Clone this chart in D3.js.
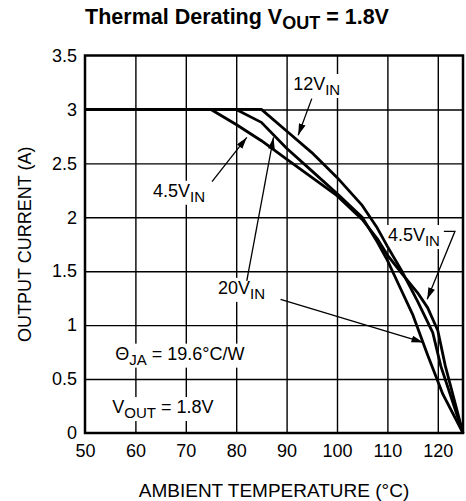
<!DOCTYPE html>
<html lang="en">
<head>
<meta charset="UTF-8">
<title>Thermal Derating</title>
<script src="https://cdn.jsdelivr.net/npm/d3@7/dist/d3.min.js"></script>
<style>
  body { margin: 0; background: #fff; }
  svg { display: block; font-family: "Liberation Sans", Arial, sans-serif; }
  .tick text { font-size: 18px; fill: #000; }
</style>
</head>
<body>
<svg id="chart" width="466" height="501"></svg>
<script>
// values
const xTicks = [50, 60, 70, 80, 90, 100, 110, 120];
const yTicks = [0, 0.5, 1, 1.5, 2, 2.5, 3, 3.5];

const temp12 = [50, 85, 90, 95, 100, 105, 108, 110, 113, 116, 119, 120.6, 125];
const curr12 = [3, 3, 2.8, 2.6, 2.37, 2.11, 1.9, 1.73, 1.49, 1.22, 0.93, 0.62, 0];

const temp20 = [50, 80, 85, 90, 95, 100, 105, 108, 110, 112, 115, 118, 121, 125];
const curr20 = [3, 3, 2.88, 2.64, 2.43, 2.22, 2.0, 1.77, 1.6, 1.4, 1.1, 0.72, 0.36, 0];

const temp45 = [50, 75, 80, 85, 90, 95, 100, 105, 108, 110, 113, 116, 118, 120, 121.5, 125];
const curr45 = [3, 3, 2.86, 2.71, 2.54, 2.37, 2.2, 1.98, 1.8, 1.65, 1.47, 1.3, 1.16, 0.95, 0.62, 0];

const series = [
  { name: "12V", t: temp12, c: curr12 },
  { name: "20V", t: temp20, c: curr20 },
  { name: "4.5V", t: temp45, c: curr45 }
];

const svg = d3.select("#chart");
const pL = 85, pR = 463, pT = 55.5, pB = 433;
const fs = 18;

const x = d3.scaleLinear().domain([50, 125]).range([pL, pR]);
const y = d3.scaleLinear().domain([0, 3.5]).range([pB, pT]);

// layers: grid, white boxes under labels, curves, arrows, text
const grid = svg.append("g");
const boxes = svg.append("g");
const curves = svg.append("g");
const arrows = svg.append("g");
const texts = svg.append("g");

grid.append("g")
  .attr("transform", `translate(0,${pB})`)
  .call(d3.axisBottom(x).tickValues(xTicks.slice(1)).tickSize(-(pB - pT)).tickFormat(""))
  .call(g => g.select(".domain").remove())
  .call(g => g.selectAll("line").attr("stroke", "#000").attr("stroke-width", 1.4));

grid.append("g")
  .attr("transform", `translate(${pL},0)`)
  .call(d3.axisLeft(y).tickValues(yTicks.slice(1, -1)).tickSize(-(pR - pL)).tickFormat(""))
  .call(g => g.select(".domain").remove())
  .call(g => g.selectAll("line").attr("stroke", "#000").attr("stroke-width", 1.4));

// tick labels
svg.append("g")
  .attr("transform", `translate(0,${pB})`)
  .call(d3.axisBottom(x).tickValues(xTicks).tickSize(0).tickPadding(11).tickFormat(d3.format("d")))
  .call(g => g.select(".domain").remove());

svg.append("g")
  .attr("transform", `translate(${pL},0)`)
  .call(d3.axisLeft(y).tickValues(yTicks).tickSize(0).tickPadding(8).tickFormat(d => d))
  .call(g => g.select(".domain").remove());

// curves
const line = d3.line().x(d => x(d[0])).y(d => y(d[1]));
series.forEach(s => {
  curves.append("path")
    .datum(d3.zip(s.t, s.c))
    .attr("d", line)
    .attr("fill", "none")
    .attr("stroke", "#000")
    .attr("stroke-width", 2.8)
    .attr("stroke-linejoin", "round");
});

// frame
svg.append("rect")
  .attr("x", pL).attr("y", pT)
  .attr("width", pR - pL).attr("height", pB - pT)
  .attr("fill", "none").attr("stroke", "#000").attr("stroke-width", 2.5);

svg.append("defs").append("marker")
  .attr("id", "head")
  .attr("viewBox", "0 0 10 6")
  .attr("refX", 10).attr("refY", 3)
  .attr("markerWidth", 12).attr("markerHeight", 7)
  .attr("markerUnits", "userSpaceOnUse")
  .attr("orient", "auto")
  .append("path").attr("d", "M0,0L10,3L0,6Z").attr("fill", "#000");

// label with subscript; pos in data units
function label(tx, ty, main, sub, rest) {
  const t = texts.append("text")
    .attr("x", x(tx)).attr("y", y(ty))
    .attr("font-size", fs);
  t.append("tspan").text(main);
  t.append("tspan").attr("dy", 5).attr("font-size", fs - 3).text(sub);
  if (rest) t.append("tspan").attr("dy", -5).text(rest);
  const b = t.node().getBBox();
  boxes.append("rect")
    .attr("x", b.x - 2).attr("y", b.y)
    .attr("width", b.width + 4).attr("height", b.height)
    .attr("fill", "#fff");
  return t;
}

function arrow(pts) {
  arrows.append("path")
    .attr("d", d3.line()(pts.map(p => [x(p[0]), y(p[1])])))
    .attr("fill", "none").attr("stroke", "#000").attr("stroke-width", 1.3)
    .attr("marker-end", "url(#head)");
}

label(91.3, 3.18, "12V", "IN");
arrow([[95.0, 3.1], [92.3, 2.76]]);

label(63.5, 2.19, "4.5V", "IN");
arrow([[75.2, 2.33], [82.1, 2.74]]);

label(76.4, 1.29, "20V", "IN");
arrow([[82.1, 1.41], [87.4, 2.74]]);
arrow([[88.8, 1.24], [117.1, 0.84]]);

label(110.1, 1.78, "4.5V", "IN");
arrow([[121.2, 1.87], [123.4, 1.87], [117.9, 1.24]]);

label(56.0, 0.68, "\u0398", "JA", " = 19.6\u00b0C/W");
label(55.4, 0.185, "V", "OUT", " = 1.8V");

// title
const title = svg.append("text")
  .attr("x", 237).attr("y", 24)
  .attr("text-anchor", "middle")
  .attr("font-size", 21.5).attr("font-weight", "bold");
title.append("tspan").text("Thermal Derating V");
title.append("tspan").attr("dy", 5).attr("font-size", 18).text("OUT");
title.append("tspan").attr("dy", -5).text(" = 1.8V");

// axis titles
svg.append("text")
  .attr("x", (pL + pR) / 2).attr("y", 497)
  .attr("text-anchor", "middle").attr("font-size", 19)
  .text("AMBIENT TEMPERATURE (\u00b0C)");

svg.append("text")
  .attr("transform", `translate(31,${(pT + pB) / 2}) rotate(-90)`)
  .attr("text-anchor", "middle").attr("font-size", fs)
  .text("OUTPUT CURRENT (A)");
</script>
</body>
</html>
